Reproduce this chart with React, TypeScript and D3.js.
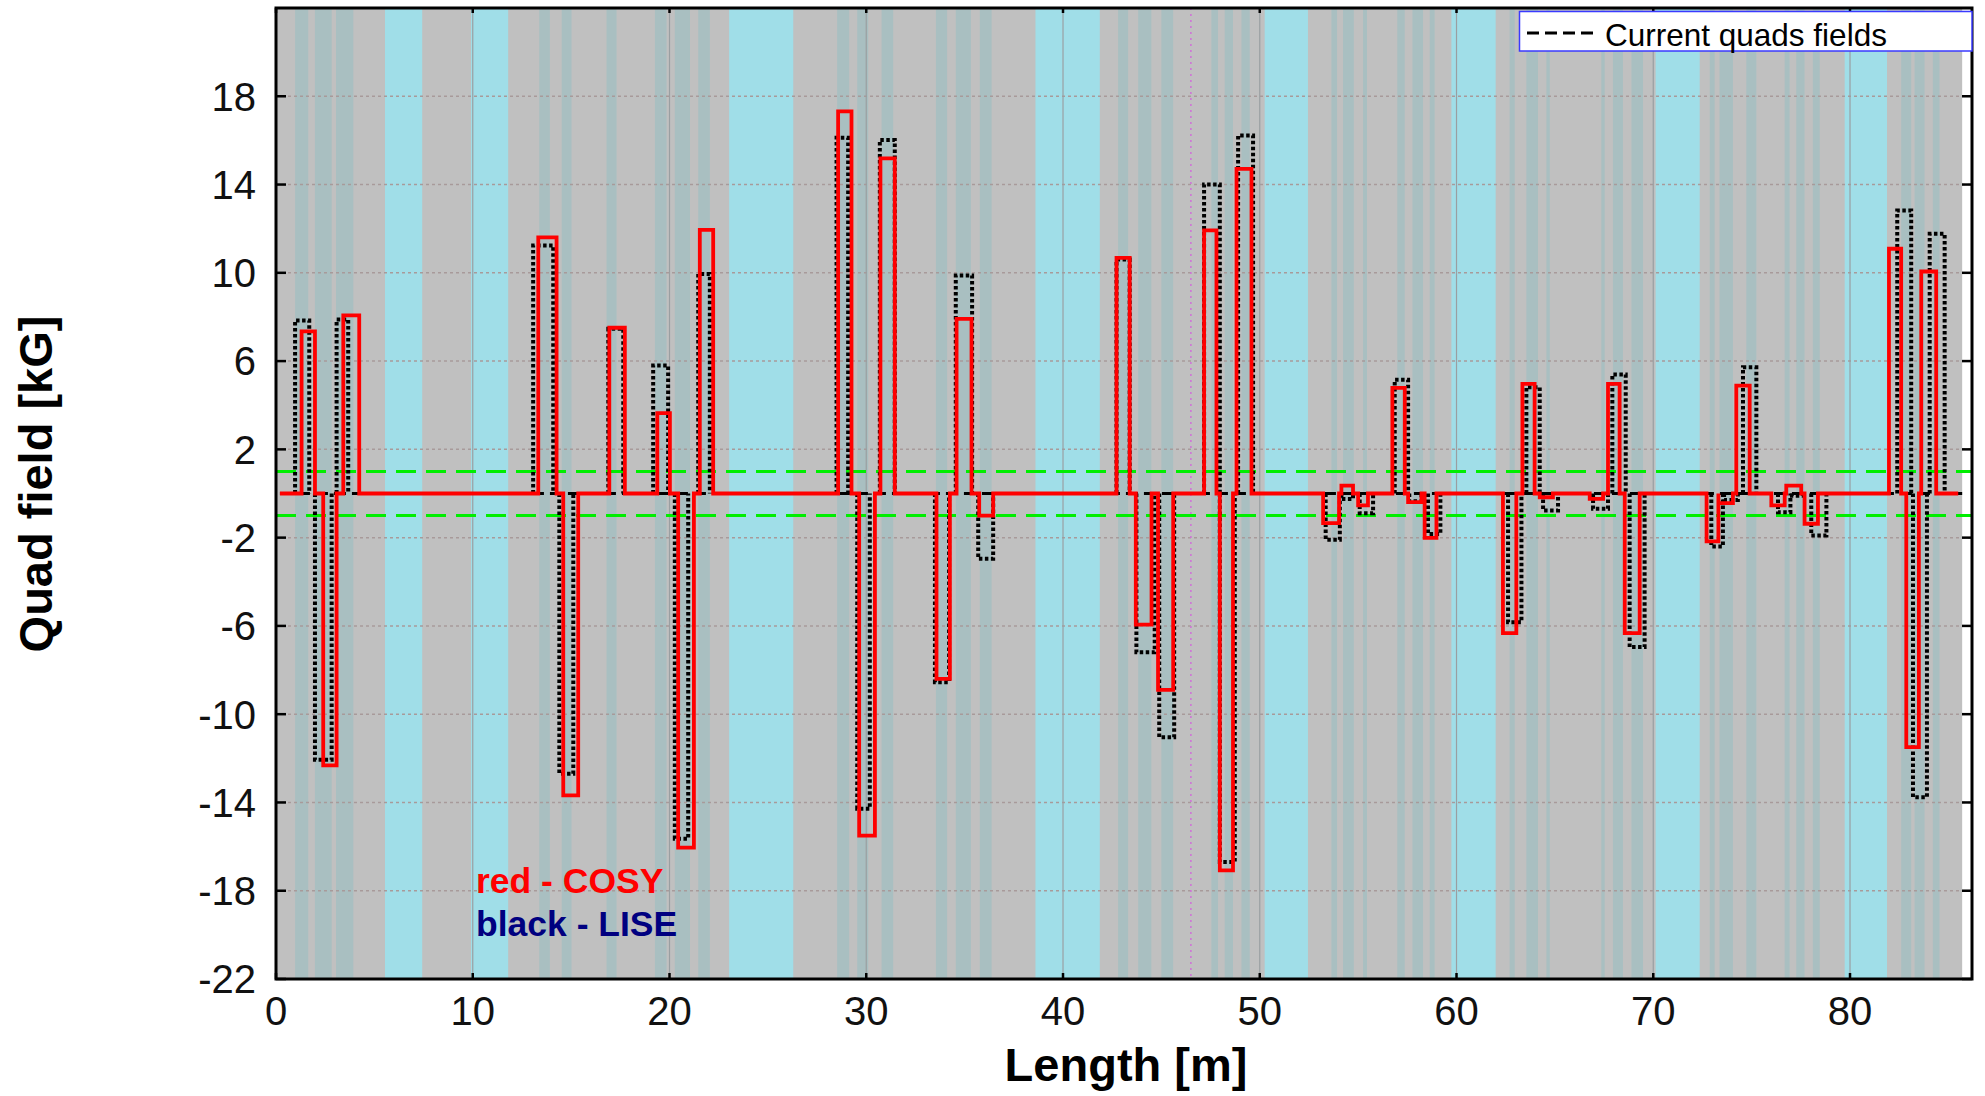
import React from "react";
import * as d3 from "d3";

// ---- data (lengths in m, fields in kG) ----
const liseStart = [0.97, 1.98, 3.08, 13.07, 14.4, 16.89, 19.17, 20.27, 21.46, 28.49, 29.54, 30.69, 33.49, 34.55, 35.69, 42.72, 43.73, 44.89, 47.17, 47.97, 48.9, 53.35, 54.15, 55.08, 56.86, 57.6, 58.55, 62.62, 63.55, 64.4, 66.94, 67.92, 68.8, 72.95, 73.6, 74.56, 76.34, 77.05, 78.03, 82.4, 83.2, 84.05];
const liseEnd = [1.69, 2.83, 3.67, 14.09, 15.11, 17.65, 19.93, 20.95, 22.05, 29.08, 30.18, 31.45, 34.21, 35.38, 36.45, 43.39, 44.66, 45.65, 47.97, 48.73, 49.66, 54.07, 54.74, 55.76, 57.54, 58.22, 59.18, 63.3, 64.23, 65.16, 67.7, 68.6, 69.56, 73.54, 74.3, 75.24, 76.97, 77.6, 78.8, 83.11, 83.91, 84.81];
const liseField = [7.84, -12.07, 7.88, 11.24, -12.7, 7.46, 5.8, -15.65, 9.95, 16.12, -14.29, 16.02, -8.55, 9.88, -2.96, 10.6, -7.19, -11.04, 14.0, -16.7, 16.22, -2.1, -0.25, -0.89, 5.15, -0.35, -1.83, -5.83, 4.82, -0.77, -0.69, 5.39, -6.96, -2.4, -0.3, 5.72, -0.85, -0.1, -1.9, 12.82, -13.76, 11.77];

const cosyStart = [1.3, 2.4, 3.42, 13.33, 14.6, 16.94, 19.38, 20.44, 21.54, 28.57, 29.64, 30.72, 33.57, 34.59, 35.74, 42.72, 43.7, 44.83, 47.17, 47.97, 48.82, 53.22, 54.15, 55.0, 56.74, 57.54, 58.38, 62.36, 63.35, 64.23, 66.77, 67.7, 68.55, 72.71, 73.31, 74.22, 76.0, 76.76, 77.69, 81.98, 82.86, 83.62];
const cosyEnd = [1.98, 3.08, 4.23, 14.26, 15.36, 17.73, 20.02, 21.24, 22.22, 29.25, 30.44, 31.45, 34.25, 35.35, 36.45, 43.39, 44.5, 45.6, 47.8, 48.64, 49.58, 54.03, 54.74, 55.5, 57.37, 58.22, 58.98, 63.04, 63.97, 64.9, 67.45, 68.29, 69.31, 73.31, 74.05, 74.9, 76.68, 77.52, 78.37, 82.6, 83.5, 84.38];
const cosyField = [7.35, -12.32, 8.07, 11.61, -13.68, 7.51, 3.64, -16.05, 11.95, 17.32, -15.5, 15.19, -8.4, 7.91, -1.0, 10.68, -5.94, -8.9, 11.92, -17.08, 14.71, -1.34, 0.36, -0.54, 4.79, -0.39, -2.01, -6.33, 4.97, -0.17, -0.24, 4.97, -6.33, -2.17, -0.44, 4.89, -0.54, 0.36, -1.37, 11.09, -11.49, 10.06];

const beamStart = 0.2;
const beamEnd = 85.7;
const driftBands = [[5.54, 7.43], [9.91, 11.8], [23.03, 26.29], [38.6, 41.87], [50.25, 52.45], [59.74, 61.99], [70.12, 72.36], [79.73, 81.88]];
const elementBands = [[0.97, 1.64], [1.98, 2.83], [3.05, 3.93], [13.38, 13.92], [14.52, 15.02], [16.8, 17.31], [19.26, 19.85], [20.27, 21.04], [21.46, 22.05], [28.52, 29.13], [29.54, 30.1], [30.78, 31.37], [33.54, 34.11], [34.55, 35.32], [35.77, 36.37], [42.8, 43.31], [43.82, 44.49], [45.0, 45.6], [47.54, 47.88], [48.22, 48.64], [49.07, 49.49], [53.64, 53.93], [54.23, 54.78], [55.25, 55.45], [56.99, 57.37], [57.76, 58.3], [58.64, 58.89], [62.7, 62.96], [63.55, 64.14], [64.57, 64.74], [67.36, 67.53], [67.95, 68.46], [68.89, 69.48], [72.87, 73.12], [73.37, 74.05], [74.73, 75.24], [76.68, 76.93], [77.27, 77.69], [78.11, 78.46], [82.6, 83.11], [83.28, 83.79], [84.21, 84.55]];
const markerPos = 46.5;
const tolerance = [1, -1];
const xTicks = [0, 10, 20, 30, 40, 50, 60, 70, 80];
const yTicks = [-22, -18, -14, -10, -6, -2, 2, 6, 10, 14, 18];
const xDomain = [0, 86.2];
const yDomain = [-22, 22];

const W = 1985;
const H = 1096;
const left = 276, right = 1972, top = 8, bottom = 979;

export default function App() {
  const x = d3.scaleLinear().domain(xDomain).range([left, right]);
  const y = d3.scaleLinear().domain(yDomain).range([bottom, top]);
  const line = d3.line<[number, number]>().x((d) => x(d[0])).y((d) => y(d[1]));

  const boxPts = (s: number, e: number, v: number): [number, number][] => [[s, 0], [s, v], [e, v], [e, 0]];

  const redPts: [number, number][] = [[beamStart, 0]];
  cosyStart.forEach((s, i) => redPts.push(...boxPts(s, cosyEnd[i], cosyField[i])));
  redPts.push([beamEnd - 0.2, 0]);

  const font = "'Liberation Sans', Arial, sans-serif";

  return (
    <svg width={W} height={H} style={{ position: "absolute", left: 0, top: 0, display: "block", background: "#fff" }} fontFamily={font}>
      {/* background */}
      <rect x={x(0)} y={top} width={x(beamEnd) - x(0)} height={bottom - top} fill="#c0c0c0" />
      {driftBands.map(([a, b], i) => (
        <rect key={"c" + i} x={x(a)} y={top} width={x(b) - x(a)} height={bottom - top} fill="#a0dee8" />
      ))}
      {elementBands.map(([a, b], i) => (
        <rect key={"e" + i} x={x(a)} y={top} width={x(b) - x(a)} height={bottom - top} fill="#a9bfc1" />
      ))}
      {/* grid */}
      {yTicks.map((t) => (
        <line key={"gy" + t} x1={left} x2={right} y1={y(t)} y2={y(t)} stroke="#a89a9a" strokeWidth={1.5} strokeDasharray="3,3" />
      ))}
      {xTicks.filter((t) => t > 0).map((t) => (
        <line key={"gx" + t} x1={x(t)} x2={x(t)} y1={top} y2={bottom} stroke="#9a9fa2" strokeWidth={1.2} />
      ))}
      <line x1={x(markerPos)} x2={x(markerPos)} y1={top} y2={bottom} stroke="#d070d8" strokeWidth={1.5} strokeDasharray="2,4" />
      {/* tolerance lines */}
      {tolerance.map((t) => (
        <line key={"g" + t} x1={left} x2={right} y1={y(t)} y2={y(t)} stroke="#00ee00" strokeWidth={3} strokeDasharray="20,10" />
      ))}
      {/* LISE (black dashed) */}
      <line x1={x(beamStart)} x2={x(beamEnd)} y1={y(0)} y2={y(0)} stroke="#000" strokeWidth={3.2} strokeDasharray="12,6" />
      {liseStart.map((s, i) => (
        <path key={"b" + i} d={line(boxPts(s, liseEnd[i], liseField[i])) || ""} fill="none" stroke="#000" strokeWidth={4} strokeDasharray="3.5,2.5" />
      ))}
      {/* COSY (red) */}
      <path d={line(redPts) || ""} fill="none" stroke="#ff0000" strokeWidth={3.8} strokeLinejoin="miter" />
      {/* frame */}
      <rect x={left} y={top} width={right - left} height={bottom - top} fill="none" stroke="#000" strokeWidth={3} />
      {/* ticks */}
      {yTicks.map((t) => (
        <g key={"ty" + t}>
          <line x1={left} x2={left + 10} y1={y(t)} y2={y(t)} stroke="#000" strokeWidth={2.5} />
          <line x1={right - 10} x2={right} y1={y(t)} y2={y(t)} stroke="#000" strokeWidth={2.5} />
          <text x={256} y={y(t)} dy="0.36em" textAnchor="end" fontSize={40} fill="#111">{t}</text>
        </g>
      ))}
      {xTicks.map((t) => (
        <g key={"tx" + t}>
          <line x1={x(t)} x2={x(t)} y1={bottom} y2={bottom - 6} stroke="#000" strokeWidth={2.5} />
          <line x1={x(t)} x2={x(t)} y1={top} y2={top + 5} stroke="#000" strokeWidth={2.5} />
          <text x={x(t)} y={1025} textAnchor="middle" fontSize={40} fill="#111">{t}</text>
        </g>
      ))}
      {/* axis titles */}
      <text x={1126} y={1081} textAnchor="middle" fontSize={47} fontWeight="bold" fill="#000">Length [m]</text>
      <text transform="translate(52,484) rotate(-90)" textAnchor="middle" fontSize={47} fontWeight="bold" fill="#000">Quad field [kG]</text>
      {/* annotations */}
      <text x={476} y={893} fontSize={35.5} fontWeight="bold" fill="#ff0000">red - COSY</text>
      <text x={476} y={936} fontSize={35.5} fontWeight="bold" fill="#000080">black - LISE</text>
      {/* legend */}
      <rect x={1519.5} y={11.5} width={right - 1519.5} height={39.5} fill="#fff" stroke="#3a3aff" strokeWidth={1.5} />
      <line x1={1527} x2={1593} y1={33} y2={33} stroke="#000" strokeWidth={3} strokeDasharray="12,6" />
      <text x={1605} y={45.5} fontSize={31.5} fill="#000">Current quads fields</text>
    </svg>
  );
}
